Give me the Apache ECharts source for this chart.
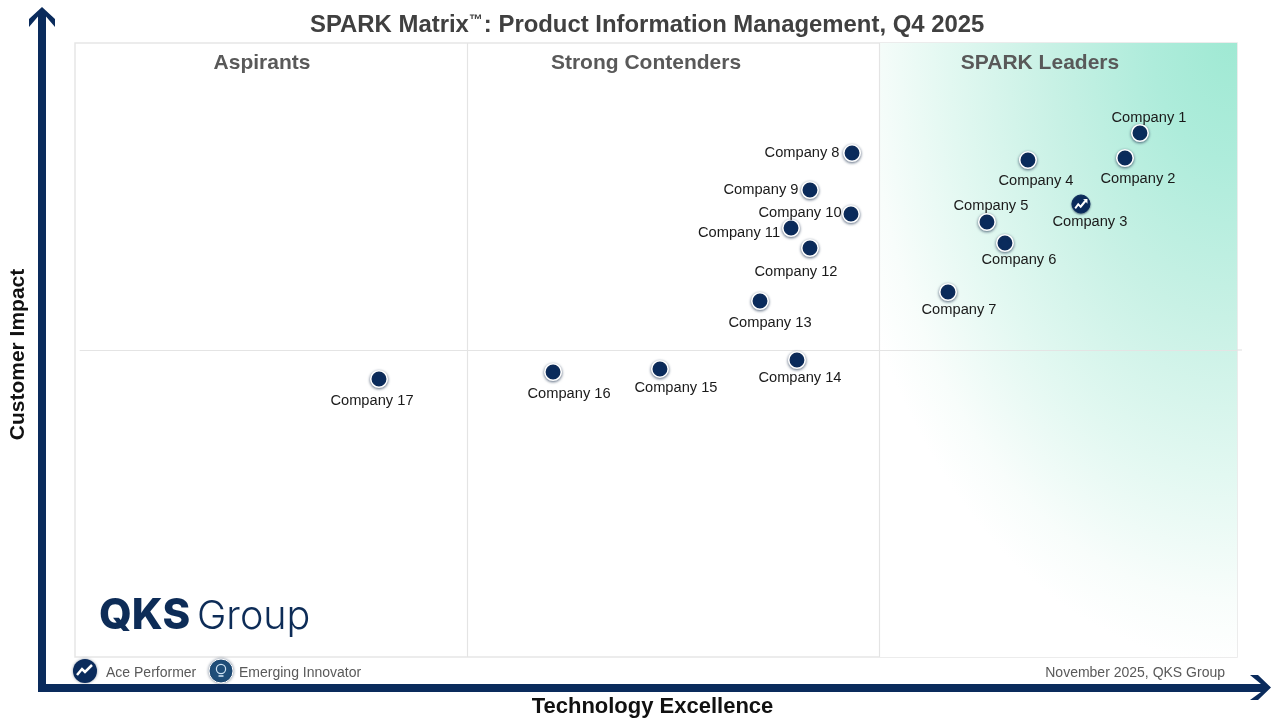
<!DOCTYPE html>
<html><head><meta charset="utf-8">
<script src="https://cdn.jsdelivr.net/npm/echarts@6/dist/echarts.min.js"></script>
<style>html,body{margin:0;padding:0;background:#fff}#c{width:1280px;height:720px}</style>
</head><body><div id="c"></div>
<script>
const companies = ['Company 1','Company 2','Company 3','Company 4','Company 5','Company 6','Company 7','Company 8','Company 9','Company 10','Company 11','Company 12','Company 13','Company 14','Company 15','Company 16','Company 17'];
const techExcellence = [91.65,90.36,86.57,82.01,78.48,80.03,75.13,66.87,63.25,66.78,61.62,63.25,58.95,62.13,50.34,41.14,26.16];
const customerImpact = [85.34,81.27,73.78,80.94,70.85,67.43,59.45,82.08,76.06,72.15,69.87,66.61,57.98,48.37,46.91,46.42,45.28];
const acePerformers = ['Company 3'];
const quadrantNames = ['Aspirants','Strong Contenders','SPARK Leaders'];
const quadrantBreaksX = [33.73,69.19];
const quadrantBreakY = 50;
const labelOffsets = [[9,-15],[13,21],[9,18],[8,21],[4,-16],[14,17],[11,18],[-50,0],[-49,0],[-51,-1],[-52,5],[-14,24],[10,22],[3,18],[16,19],[16,22],[-7,22]];

const NAVY = '#0a2b5c';
const FONT = '"Liberation Sans",Arial,sans-serif';
const ZIG = 'path://M0 9 L4 4 L6.5 6.5 L11 1 L9 0 L14 0 L14 5 L12.4 3 L6.8 9.6 L4.2 7 L1.6 10.4 Z';
const chart = echarts.init(document.getElementById('c'), null, {renderer:'canvas'});
const points = companies.map((n,i)=>{
  const ace = acePerformers.includes(n);
  return {name:n,value:[techExcellence[i],customerImpact[i]],label:{offset:labelOffsets[i]},
    symbolSize:ace?18:16.5,
    itemStyle:ace?{borderColor:NAVY,borderWidth:1,shadowBlur:2}:undefined};
});
const quadX = i => [262,646,1040][i];
function arrow(points){return {type:'polygon',shape:{points},style:{fill:NAVY}};}

chart.setOption({
  animation:false,
  backgroundColor:'#fff',
  textStyle:{fontFamily:FONT},
  title:{left:305,top:8,
    text:'{a|SPARK Matrix}{b|™}{a|: Product Information Management, Q4 2025}',
    textStyle:{rich:{
      a:{fontSize:23.9,fontWeight:'bold',color:'#404040',fontFamily:FONT},
      b:{fontSize:14,fontWeight:'bold',color:'#404040',fontFamily:FONT,verticalAlign:'top',padding:[0,1,0,0]}
    }}},
  grid:{left:75,right:43,top:43,bottom:63,show:true,borderColor:'#e6e6e6',borderWidth:1.5,backgroundColor:'#fff',outerBoundsMode:'none',containLabel:false},
  xAxis:{type:'value',min:0,max:100,splitLine:{show:false},axisTick:{show:false},axisLabel:{show:false},axisLine:{show:false},
    name:'Technology Excellence',nameLocation:'middle',nameGap:39,
    nameTextStyle:{fontSize:22,fontWeight:'bold',color:'#111',padding:[0,7,0,0],fontFamily:FONT}},
  yAxis:{type:'value',min:0,max:100,splitLine:{show:false},axisTick:{show:false},axisLabel:{show:false},axisLine:{show:false},
    name:'Customer Impact',nameLocation:'middle',nameGap:46,nameRotate:90,
    nameTextStyle:{fontSize:21,fontWeight:'bold',color:'#111',padding:[0,9,0,0],fontFamily:FONT}},
  series:[
    {type:'custom',name:'SPARK Leaders zone',silent:true,z:1,clip:false,
     data:[[quadrantBreaksX[1],100,100,0]],
     renderItem:(params,api)=>{
       const a=api.coord([api.value(0),api.value(1)]), b=api.coord([api.value(2),api.value(3)]);
       const w=b[0]-a[0], h=b[1]-a[1], k=1.55;
       return {type:'rect',x:b[0],y:a[1],scaleX:1,scaleY:k,
         shape:{x:-w,y:0,width:w,height:h/k},
         style:{fill:new echarts.graphic.RadialGradient(-5,-5,405,[
           {offset:0,color:'#9fe9d3'},{offset:0.2,color:'#aeecdb'},{offset:0.45,color:'#c8f1e5'},{offset:0.7,color:'#e2f8f1'},{offset:0.9,color:'#f8fdfb'},{offset:1,color:'#ffffff'}],true)}};
     }},
    {type:'scatter',name:'Companies',data:points,symbol:'circle',z:5,
     itemStyle:{opacity:1,color:NAVY,borderColor:'#fff',borderWidth:1.6,shadowColor:'rgba(30,50,80,0.65)',shadowBlur:3,shadowOffsetY:1},
     label:{show:true,position:'inside',formatter:'{b}',fontSize:14.67,color:'#1a1a1a',opacity:1,fontFamily:FONT},
     markLine:{silent:true,symbol:'none',z:2,label:{show:false},lineStyle:{color:'#e4e4e4',width:1.2,type:'solid',opacity:1},
       data:[
         [{coord:[quadrantBreaksX[0],0]},{coord:[quadrantBreaksX[0],100]}],
         [{coord:[quadrantBreaksX[1],0]},{coord:[quadrantBreaksX[1],100]}],
         [{coord:[0.4,quadrantBreakY]},{coord:[100,quadrantBreakY]}]
       ]}
    },
    {type:'scatter',name:'Ace Performer',z:6,silent:true,
     data:companies.map((n,i)=>acePerformers.includes(n)?[techExcellence[i],customerImpact[i]]:null).filter(Boolean),
     symbol:ZIG,symbolSize:[13,10],itemStyle:{color:'#fff',opacity:1},label:{show:false}}
  ],
  graphic:[
    {type:'line',z:0,shape:{x1:1237,y1:350,x2:1242,y2:350},style:{stroke:'#e4e4e4',lineWidth:1.2}},
    arrow([[38,692],[38,16.5],[29,27],[29,19],[42,7],[55,19],[55,27],[46,16.5],[46,684],[1261,684],[1250,675],[1258,675],[1271,687.5],[1258,700],[1250,700],[1261,692]]),
    ...quadrantNames.map((t,i)=>({type:'text',z:10,style:{text:t,x:quadX(i),y:63,align:'center',verticalAlign:'middle',
      font:'bold 21px '+FONT,fill:'#595959'}})),
    {type:'text',z:10,style:{text:'QKS',x:99,y:616,verticalAlign:'middle',font:'800 42px Inter,Lato,sans-serif',fill:'#0d2c57'}},
    {type:'text',z:10,style:{text:'Group',x:197,y:617,verticalAlign:'middle',font:'300 39.5px Inter,Lato,sans-serif',fill:'#0d2c57'}},
    {type:'circle',z:10,shape:{cx:85,cy:671,r:12},style:{fill:NAVY,shadowBlur:3,shadowColor:'rgba(30,50,80,.5)'}},
    {type:'polyline',z:11,shape:{points:[[77,675],[82,669],[85,672],[92,665]]},style:{stroke:'#fff',lineWidth:2.5,fill:null}},
    {type:'text',z:10,style:{text:'Ace Performer',x:106,y:673,verticalAlign:'middle',font:'14px '+FONT,fill:'#595959'}},
    {type:'circle',z:10,shape:{cx:221,cy:671,r:12},style:{fill:'#1f4e79',stroke:'#fff',lineWidth:1,shadowBlur:3,shadowColor:'rgba(30,50,80,.5)'}},
    {type:'circle',z:11,shape:{cx:221,cy:669,r:4.6},style:{stroke:'#cfe3f3',lineWidth:1.2,fill:null}},
    {type:'line',z:11,shape:{x1:218.5,y1:676,x2:223.5,y2:676},style:{stroke:'#cfe3f3',lineWidth:1.6}},
    {type:'text',z:10,style:{text:'Emerging Innovator',x:239,y:673,verticalAlign:'middle',font:'14px '+FONT,fill:'#595959'}},
    {type:'text',z:10,style:{text:'November 2025, QKS Group',x:1225,y:673,align:'right',verticalAlign:'middle',font:'14px '+FONT,fill:'#595959'}}
  ]
});
</script></body></html>
